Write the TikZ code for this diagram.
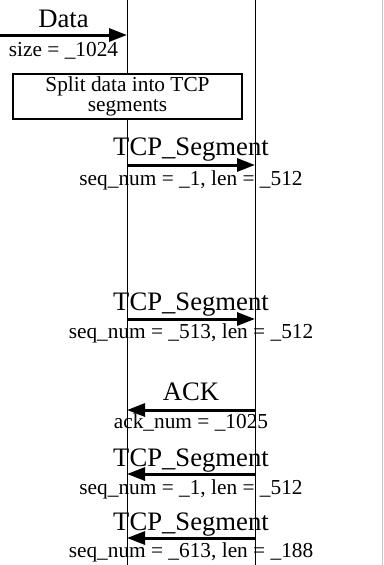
\documentclass[tikz,border=0pt]{standalone}
\usepackage{fontspec}
\setmainfont{Liberation Serif}
\usetikzlibrary{arrows.meta}

\tikzset{every picture/.style={line width=0.75pt}}
\tikzset{
  msg/.style={line width=2.25pt,-{Triangle[length=13.5pt,width=9.75pt]}},
  msglabel/.style={anchor=base,inner sep=0pt,font=\fontsize{20}{24}\selectfont},
  msgsub/.style={anchor=base,inner sep=0pt,font=\fontsize{16}{19}\selectfont},
  stepbox/.style={draw,line width=1.5pt,fill=white,align=center,inner sep=0pt,
    minimum width=172pt,minimum height=33.75pt,font=\fontsize{16}{15}\selectfont},
}

\begin{document}
\begin{tikzpicture}[x=0.75pt,y=0.75pt,yscale=-1,xscale=1]
	\useasboundingbox (0,0) rectangle (383,565);
	
	%Lifelines
	\coordinate (srcTop) at (127,0);
	\coordinate (srcBot) at (127,565);
	\coordinate (dstTop) at (255,0);
	\coordinate (dstBot) at (255,565);
	\coordinate (edgeTop) at (382,0);
	\coordinate (edgeBot) at (382,565);
	\draw (srcTop) -- (srcBot);
	\draw (dstTop) -- (dstBot);
	\draw [color={rgb, 255:red, 200; green, 200; blue, 200 }] (edgeTop) -- (edgeBot);
	
	%Data in
	\coordinate (dataIn) at (0,35);
	\coordinate (dataAt) at (127,35);
	\draw [msg] (dataIn) -- (dataAt);
	\draw (63.5,27) node [msglabel] (dataLbl) {Data};
	\draw (63.5,56) node [msgsub] (dataSub) {size = \_1024};
	
	%Shape: Rectangle
	\draw (127.5,96.5) node [stepbox] (splitBox) {Split data into TCP\\segments};
	
	%Segment 1
	\coordinate (seg1From) at (127,165);
	\coordinate (seg1To) at (255,165);
	\draw [msg] (seg1From) -- (seg1To);
	\draw (191,155) node [msglabel] (seg1Lbl) {TCP\_Segment};
	\draw (191,185) node [msgsub] (seg1Sub) {seq\_num = \_1, len = \_512};
	
	%Segment 2
	\coordinate (seg2From) at (127,319);
	\coordinate (seg2To) at (255,319);
	\draw [msg] (seg2From) -- (seg2To);
	\draw (191,310) node [msglabel] (seg2Lbl) {TCP\_Segment};
	\draw (191,338) node [msgsub] (seg2Sub) {seq\_num = \_513, len = \_512};
	
	%ACK
	\coordinate (ackFrom) at (255,410);
	\coordinate (ackTo) at (127,410);
	\draw [msg] (ackFrom) -- (ackTo);
	\draw (191,400) node [msglabel] (ackLbl) {ACK};
	\draw (191,428) node [msgsub] (ackSub) {ack\_num = \_1025};
	
	%Segment 3
	\coordinate (seg3From) at (255,474);
	\coordinate (seg3To) at (127,474);
	\draw [msg] (seg3From) -- (seg3To);
	\draw (191,466) node [msglabel] (seg3Lbl) {TCP\_Segment};
	\draw (191,494) node [msgsub] (seg3Sub) {seq\_num = \_1, len = \_512};
	
	%Segment 4
	\coordinate (seg4From) at (255,538);
	\coordinate (seg4To) at (127,538);
	\draw [msg] (seg4From) -- (seg4To);
	\draw (191,530) node [msglabel] (seg4Lbl) {TCP\_Segment};
	\draw (191,557) node [msgsub] (seg4Sub) {seq\_num = \_613, len = \_188};
\end{tikzpicture}
\end{document}
